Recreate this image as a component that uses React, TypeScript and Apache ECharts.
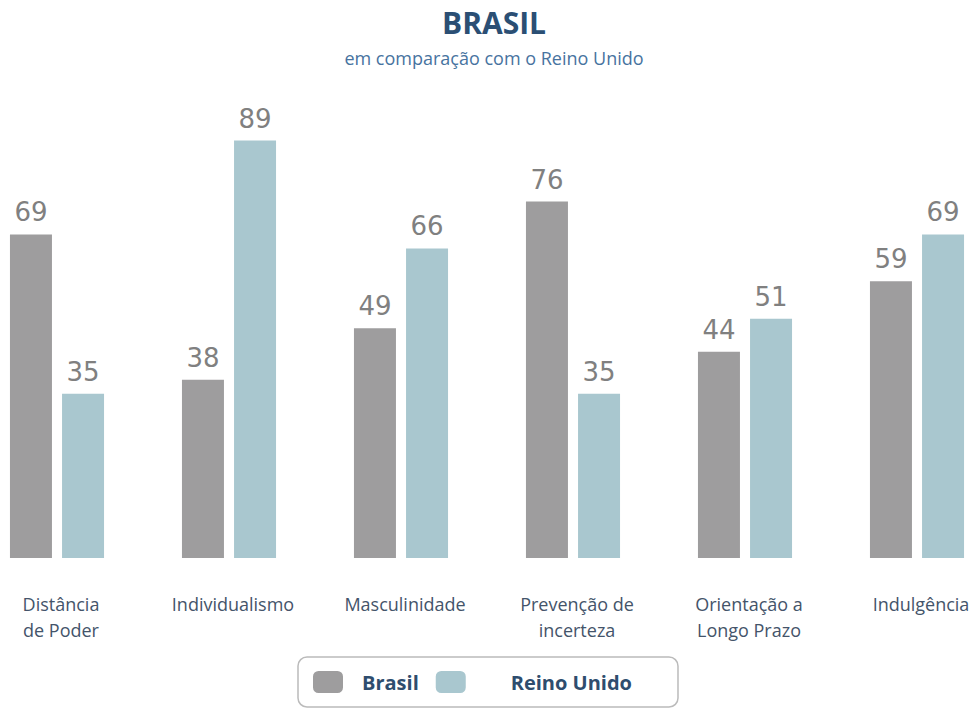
import React, { useEffect, useRef } from "react";
import * as echarts from "echarts";

const categories = [
  "Distância\nde Poder",
  "Individualismo",
  "Masculinidade",
  "Prevenção de\nincerteza",
  "Orientação a\nLongo Prazo",
  "Indulgência",
];
const brasil = [69, 38, 49, 76, 44, 59];
const reinoUnido = [35, 89, 66, 35, 51, 69];
const seriesNames = ["Brasil", "Reino Unido"];

const GRAY = "#9E9D9E";
const BLUE = "#A9C7CF";
const OFFSET = 29; // chart div starts 29px left of the page

export default function App() {
  const ref = useRef<HTMLDivElement>(null);
  useEffect(() => {
    if (!ref.current) return;
    const chart = echarts.init(ref.current, null, { renderer: "svg" });
    const valueLabel = {
      show: true,
      position: "top",
      distance: 9,
      color: "#808080",
      fontSize: 26,
      fontFamily: "DejaVu Sans",
    };
    chart.setOption({
      animation: false,
      backgroundColor: "#ffffff",
      title: {
        text: "BRASIL",
        subtext: "em comparação com o Reino Unido",
        left: 494 + OFFSET,
        textAlign: "center",
        top: 5,
        padding: 0,
        itemGap: 8,
        textStyle: {
          fontFamily: "Open Sans",
          fontWeight: "bold",
          fontSize: 30,
          lineHeight: 34,
          color: "#2B4F74",
        },
        subtextStyle: {
          fontFamily: "Open Sans",
          fontSize: 18,
          lineHeight: 22,
          color: "#4773A0",
        },
      },
      legend: {
        data: seriesNames,
        left: 298 + OFFSET,
        top: 657,
        orient: "horizontal",
        icon: "roundRect",
        itemWidth: 30,
        itemHeight: 22,
        itemGap: 17,
        padding: [14, 46, 14, 15],
        borderColor: "#BBBBBB",
        borderWidth: 1.5,
        borderRadius: 9,
        formatter: (name: string) =>
          name === "Reino Unido" ? "{r|" + name + "}" : "{b|" + name + "}",
        textStyle: {
          fontFamily: "Open Sans",
          fontWeight: "bold",
          fontSize: 20,
          color: "#2E4D6E",
          rich: {
            b: {
              fontFamily: "Open Sans",
              fontWeight: "bold",
              fontSize: 20,
              color: "#2E4D6E",
              padding: [0, 0, 0, 14],
            },
            r: {
              fontFamily: "Open Sans",
              fontWeight: "bold",
              fontSize: 20,
              color: "#2E4D6E",
              padding: [0, 0, 0, 40],
            },
          },
        },
      },
      grid: {
        left: 0,
        right: 0,
        top: 89,
        bottom: 151,
        containLabel: false,
      },
      xAxis: {
        type: "category",
        data: categories,
        axisLine: { show: false },
        axisTick: { show: false },
        axisLabel: {
          interval: 0,
          margin: 33,
          verticalAlign: "top",
          padding: [0, 0, 0, 8],
          fontFamily: "Open Sans",
          fontSize: 18,
          lineHeight: 26,
          color: "#44546A",
        },
      },
      yAxis: {
        type: "value",
        min: 0,
        max: 100,
        show: false,
        splitLine: { show: false },
      },
      series: [
        {
          name: seriesNames[0],
          type: "bar",
          data: brasil,
          barWidth: 42,
          barGap: "24%",
          itemStyle: { color: GRAY },
          label: valueLabel,
        },
        {
          name: seriesNames[1],
          type: "bar",
          data: reinoUnido,
          barWidth: 42,
          barGap: "24%",
          itemStyle: { color: BLUE },
          label: valueLabel,
        },
      ],
    });
    return () => chart.dispose();
  }, []);
  return (
    <div
      ref={ref}
      style={{ position: "fixed", left: -OFFSET, top: 0, width: 1032, height: 709 }}
    />
  );
}
